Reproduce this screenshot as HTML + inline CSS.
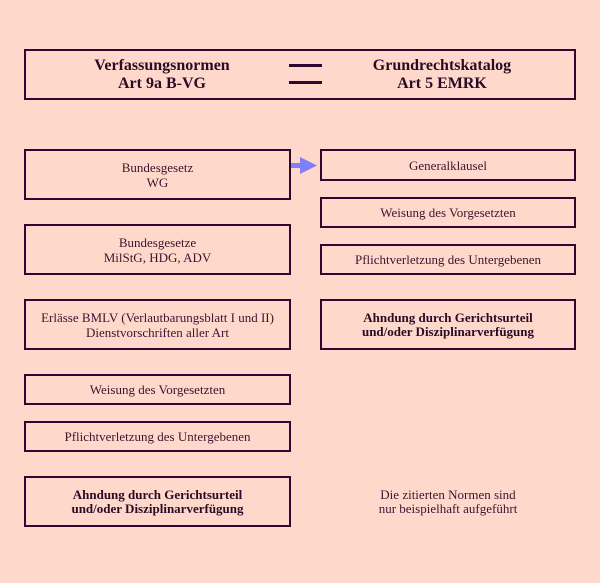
<!DOCTYPE html>
<html>
<head>
<meta charset="utf-8">
<style>
html,body{margin:0;padding:0;}
body{width:600px;height:583px;background:#fed9cb;position:relative;overflow:hidden;font-family:"Liberation Serif",serif;color:#3a1530;}
.b{position:absolute;box-sizing:border-box;border:2px solid #2e0833;display:flex;align-items:center;justify-content:center;text-align:center;font-size:13px;line-height:15px;}
.bold{font-weight:bold;color:#2a0a25;line-height:14px;}
.bar{position:absolute;left:289px;width:33px;height:3px;background:#2e0833;}
.t{position:absolute;text-align:center;font-weight:bold;font-size:16px;line-height:18px;color:#2a0a25;}
</style>
</head>
<body>
<!-- top box -->
<div class="b" style="left:24px;top:49px;width:552px;height:51px;"></div>
<div class="t" style="left:62px;width:200px;top:57px;">Verfassungsnormen<br>Art 9a B-VG</div>
<div class="t" style="left:342px;width:200px;top:57px;">Grundrechtskatalog<br>Art 5 EMRK</div>
<div class="bar" style="top:64px;"></div>
<div class="bar" style="top:81px;"></div>

<!-- left column -->
<div class="b" style="left:24px;top:149px;width:267px;height:51px;">Bundesgesetz<br>WG</div>
<div class="b" style="left:24px;top:224px;width:267px;height:51px;">Bundesgesetze<br>MilStG, HDG, ADV</div>
<div class="b" style="left:24px;top:299px;width:267px;height:51px;">Erlässe BMLV (Verlautbarungsblatt I und II)<br>Dienstvorschriften aller Art</div>
<div class="b" style="left:24px;top:374px;width:267px;height:31px;">Weisung des Vorgesetzten</div>
<div class="b" style="left:24px;top:421px;width:267px;height:31px;">Pflichtverletzung des Untergebenen</div>
<div class="b bold" style="left:24px;top:476px;width:267px;height:51px;">Ahndung durch Gerichtsurteil<br>und/oder Disziplinarverfügung</div>

<!-- right column -->
<div class="b" style="left:320px;top:149px;width:256px;height:32px;">Generalklausel</div>
<div class="b" style="left:320px;top:197px;width:256px;height:31px;">Weisung des Vorgesetzten</div>
<div class="b" style="left:320px;top:244px;width:256px;height:31px;">Pflichtverletzung des Untergebenen</div>
<div class="b bold" style="left:320px;top:299px;width:256px;height:51px;">Ahndung durch Gerichtsurteil<br>und/oder Disziplinarverfügung</div>
<div class="b" style="left:320px;top:476px;width:256px;height:51px;border-color:transparent;line-height:14px;">Die zitierten Normen sind<br>nur beispielhaft aufgeführt</div>

<!-- arrow -->
<svg style="position:absolute;left:0;top:0;" width="600" height="583">
<rect x="291" y="163" width="11" height="5" fill="#7f7ff7"/>
<polygon points="300,157 317,165.5 300,174" fill="#7f7ff7"/>
</svg>
</body>
</html>
